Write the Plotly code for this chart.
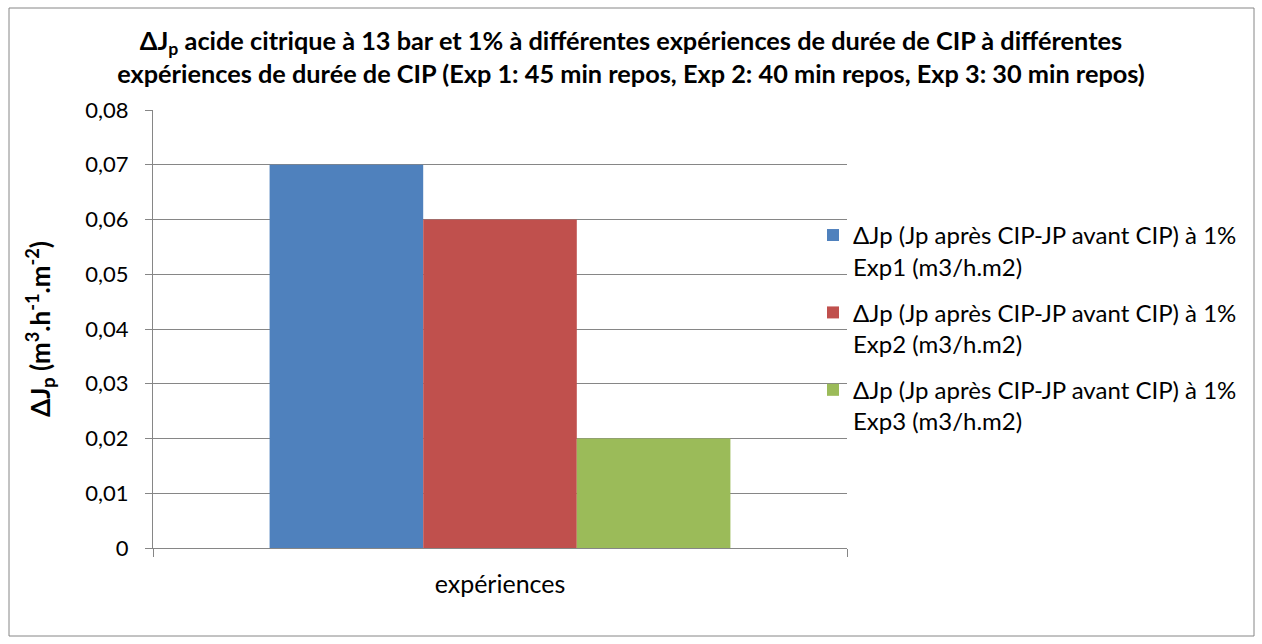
import plotly.graph_objects as go

categories = ["expériences"]
series_names = [
    "ΔJp (Jp après CIP-JP avant CIP) à 1%<br>Exp1 (m3/h.m2)",
    "ΔJp (Jp après CIP-JP avant CIP) à 1%<br>Exp2 (m3/h.m2)",
    "ΔJp (Jp après CIP-JP avant CIP) à 1%<br>Exp3 (m3/h.m2)",
]
exp1 = [0.07]
exp2 = [0.06]
exp3 = [0.02]
colors = ["#4F81BD", "#C0504D", "#9BBB59"]

FONT = "Lato"

fig = go.Figure()
for i, (name, vals) in enumerate(zip(series_names, [exp1, exp2, exp3])):
    fig.add_trace(go.Bar(
        x=categories, y=vals, name=name, marker_color=colors[i],
        marker_line_width=0, legendgroup=f"g{i}",
    ))

fig.update_layout(
    width=1262, height=644,
    margin=dict(l=153, r=415, t=110, b=96),
    paper_bgcolor="white", plot_bgcolor="white",
    separators=",.",
    barmode="group", bargap=0.336, bargroupgap=0,
    font=dict(family=FONT, size=18, color="#000000"),
    title=dict(
        text="<b>ΔJ<sub>p</sub> acide citrique à 13 bar et 1% à différentes expériences de durée de CIP à différentes<br>expériences de durée de CIP (Exp 1: 45 min repos, Exp 2: 40 min repos, Exp 3: 30 min repos)</b>",
        x=0.5, xref="container", xanchor="center",
        y=1 - 50 / 644, yref="container", yanchor="middle",
        font=dict(family=FONT, size=25.3, color="#000000"),
        automargin=False,
    ),
    legend=dict(
        x=0.951, xanchor="left", y=0.765, yanchor="top",
        font=dict(family=FONT, size=24, color="#000000"),
        tracegroupgap=12, itemwidth=30, valign="top",
        bgcolor="rgba(0,0,0,0)",
    ),
    showlegend=True,
)

fig.update_yaxes(
    range=[0, 0.08], dtick=0.01, tick0=0,
    showgrid=True, gridcolor="#868686", gridwidth=1,
    showline=True, linecolor="#868686", linewidth=1,
    ticks="outside", ticklen=7, tickcolor="#868686",
    ticklabelstandoff=12,
    tickfont=dict(family=FONT, size=22, color="#000000"),
    zeroline=False,
    title=dict(
        text="<b>ΔJ<sub>p</sub> (m<sup>3</sup>.h<sup>-1</sup>.m<sup>-2</sup>)</b>",
        font=dict(family=FONT, size=26, color="#000000"),
        standoff=27,
    ),
)
fig.update_xaxes(
    showline=True, linecolor="#868686", linewidth=1,
    ticks="outside", ticklen=8, tickcolor="#868686", tickson="boundaries",
    ticklabelstandoff=14,
    tickfont=dict(family=FONT, size=25, color="#000000"),
    showgrid=False,
)

fig.add_shape(
    type="rect", xref="paper", yref="paper",
    x0=(9 - 153) / 694, x1=(1254 - 153) / 694,
    y0=(548 - 636) / 438, y1=(548 - 8) / 438,
    line=dict(color="#868686", width=1), fillcolor="rgba(0,0,0,0)", layer="below",
)

fig.write_html("out.html")
